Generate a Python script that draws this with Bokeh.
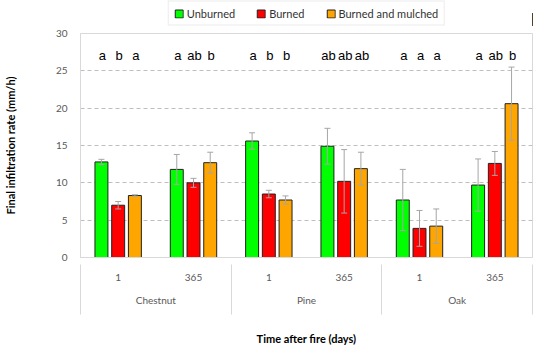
from bokeh.plotting import figure
from bokeh.layouts import column
from bokeh.models import (FactorRange, ColumnDataSource, Whisker, Legend, LegendItem,
                          CategoricalAxis, Range1d, FixedTicker, TeeHead)
from bokeh.transform import dodge
from bokeh.core.properties import value
from bokeh.embed import file_html
from bokeh.resources import INLINE

species = ["Chestnut", "Pine", "Oak"]
days = ["1", "365"]
treatments = ["Unburned", "Burned", "Burned and mulched"]
unburned = [12.8, 11.8, 15.6, 14.9, 7.7, 9.7]
burned = [7.0, 10.0, 8.5, 10.2, 3.9, 12.6]
mulched = [8.3, 12.7, 7.7, 11.9, 4.2, 20.6]
unburned_err = [0.35, 2.0, 1.1, 2.4, 4.1, 3.5]
burned_err = [0.5, 0.6, 0.5, 4.25, 2.4, 1.6]
mulched_err = [0.1, 1.4, 0.55, 2.2, 2.3, 4.9]
unburned_sig = ["a", "a", "a", "ab", "a", "a"]
burned_sig = ["b", "ab", "b", "ab", "a", "ab"]
mulched_sig = ["a", "b", "b", "ab", "a", "b"]
colors = ["#00ff00", "#ff0000", "#ffa500"]
y_ticks = [0, 5, 10, 15, 20, 25, 30]

factors = [(s, d) for s in species for d in days]

# ---- legend strip above the chart (legend keys only; their bars lie off-range) ----
lg = figure(width=534, height=26, output_backend="svg", toolbar_location=None,
            x_range=Range1d(0, 1), y_range=Range1d(0, 1),
            x_axis_type=None, y_axis_type=None, min_border=0)
lg.outline_line_color = None
lg.grid.visible = False
leg_items = []
for col, name in zip(colors, treatments):
    rr = lg.vbar(x=[5], top=[0.5], width=0.1, fill_color=col, line_color="#222222", line_width=1)
    leg_items.append(LegendItem(label=name, renderers=[rr]))
legend = Legend(items=leg_items, orientation="horizontal", location="center",
                glyph_width=10, glyph_height=10, label_standoff=3, spacing=21,
                padding=5, margin=0, border_line_color="#d9d9d9", border_line_width=1,
                label_text_font="Lato", label_text_font_size="11px", label_text_color="#333333",
                background_fill_color="white", background_fill_alpha=1.0)
lg.add_layout(legend)

# ---- main chart ----
p = figure(width=534, height=321, output_backend="svg", toolbar_location=None,
           x_range=FactorRange(*factors, factor_padding=0, group_padding=0, range_padding=0),
           y_range=Range1d(0, 30),
           min_border_left=69, min_border_right=2, min_border_top=7, min_border_bottom=60)

offsets = [-0.222, 0.0, 0.222]
series = [(unburned, unburned_err, unburned_sig), (burned, burned_err, burned_sig),
          (mulched, mulched_err, mulched_sig)]
for (vals, errs, sigs), off, col in zip(series, offsets, colors):
    src = ColumnDataSource(dict(x=factors, top=vals,
                                upper=[v + e for v, e in zip(vals, errs)],
                                lower=[v - e for v, e in zip(vals, errs)],
                                sig=sigs))
    p.vbar(x=dodge("x", off, range=p.x_range), top="top", width=0.172, source=src,
           fill_color=col, line_color="#222222", line_width=1)
    w = Whisker(base=dodge("x", off, range=p.x_range), upper="upper", lower="lower", source=src,
                line_color="#a6a6a6", line_width=1, level="overlay",
                upper_head=TeeHead(size=6, line_color="#a6a6a6", line_width=1),
                lower_head=TeeHead(size=6, line_color="#a6a6a6", line_width=1))
    p.add_layout(w)
    p.text(x=dodge("x", off, range=p.x_range), y=27, text="sig", source=src, x_offset=1,
           text_font=value("Liberation Sans"), text_font_size="13px", text_color="black",
           text_align="center", text_baseline="middle")

p.outline_line_color = "#d9d9d9"
p.xgrid.visible = False
p.ygrid.ticker = FixedTicker(ticks=y_ticks[1:-1])
p.ygrid.grid_line_color = "#bfbfbf"
p.ygrid.grid_line_dash = "4 3"

ya = p.yaxis[0]
ya.ticker = FixedTicker(ticks=y_ticks)
ya.axis_line_color = "#d9d9d9"
ya.major_tick_line_color = None
ya.minor_tick_line_color = None
ya.major_label_standoff = 7
ya.major_label_text_font = "Lato"
ya.major_label_text_font_size = "10px"
ya.major_label_text_color = "#595959"
ya.axis_label = "Final infiltration rate (mm/h)"
ya.axis_label_text_font = "Lato"
ya.axis_label_text_font_style = "bold"
ya.axis_label_text_font_size = "11px"
ya.axis_label_text_color = "black"
ya.axis_label_standoff = 36

xa = p.xaxis[0]
xa.axis_line_color = "#d9d9d9"
xa.major_tick_line_color = None
xa.minor_tick_line_color = None
xa.separator_line_color = None
xa.major_label_standoff = 10
xa.major_label_text_font = "Lato"
xa.major_label_text_font_size = "10px"
xa.major_label_text_color = "#595959"
xa.major_label_overrides = {"1": "1\n ", "365": "365\n "}
xa.group_text_font = "Lato"
xa.group_text_font_size = "10px"
xa.group_text_font_style = "normal"
xa.group_text_color = "#595959"

# group-boundary separators: ticks of a second categorical axis whose factor
# centres fall (almost exactly) on the edges of the species groups
edges = ["e0", "e1", "e2", "e3"]
p.extra_x_ranges = {"sep": FactorRange(*edges, factor_padding=1000, range_padding=0)}
sep = CategoricalAxis(x_range_name="sep",
                      major_tick_in=44, major_tick_out=6, major_tick_line_color="#d9d9d9",
                      axis_line_color=None, minor_tick_line_color=None,
                      major_label_text_font_size="1px", major_label_text_color=None,
                      major_label_standoff=0,
                      axis_label="Time after fire (days)", axis_label_text_font="Lato",
                      axis_label_text_font_style="bold", axis_label_text_font_size="11px",
                      axis_label_text_color="black", axis_label_standoff=17)
p.add_layout(sep, "below")

layout = column(lg, p, spacing=0)
open("out.html", "w").write(file_html(layout, INLINE))
